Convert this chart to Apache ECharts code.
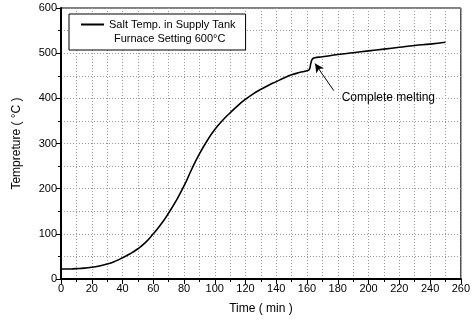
<!DOCTYPE html>
<html><head><meta charset="utf-8">
<script src="https://cdn.jsdelivr.net/npm/echarts@6/dist/echarts.min.js"></script>
<style>html,body{margin:0;padding:0;background:#fff}#c{width:473px;height:322px}</style>
</head><body><div id="c"></div>
<script>
const timeMin = [0,5,10,15,20,25,30,35,40,45,50,55,60,65,70,75,80,85,90,95,100,105,110,115,120,125,130,135,140,145,150,155,160,161.5,162.5,163.5,165,170,180,190,200,210,220,230,240,250];
const saltTemp = [22,22,23,24,26,29,33,39,47,56,67,81,100,121,146,174,206,243,277,306,331,351,368,384,398,410,420,429,437,445,452,457,461,464,478,487,490,492,497,501,505,509,513,517,520,524];
const seriesName = 'Salt Temp. in Supply Tank';
const legendLine2 = 'Furnace Setting 600°C';
const annotText = 'Complete melting';
const arrowTip = [165.2, 477];
const arrowTail = [177.4, 417];
const annotPos = [182.5, 402];
const xTitle = 'Time ( min )';
const yTitle = 'Tempreture ( °C )';

const font = 'Liberation Sans, Arial, sans-serif';
const chart = echarts.init(document.getElementById('c'), null, {renderer:'canvas'});
chart.setOption({
  animation:false,
  textStyle:{fontFamily:font},
  grid:{left:61,right:8,top:8,bottom:43,show:true,borderColor:'#000',borderWidth:1,backgroundColor:'transparent'},
  legend:{
    data:[seriesName], left:69, top:14, orient:'vertical',
    itemWidth:23, itemHeight:2, itemGap:0,
    padding:[5,10,20,12],
    borderColor:'#000', borderWidth:1, backgroundColor:'#fff',
    textStyle:{fontFamily:font,fontSize:11,color:'#000'},
    icon:'rect'
  },
  graphic:[{type:'text',left:114,top:33,z:100,style:{text:legendLine2,font:'11px '+font,fill:'#000'}}],
  xAxis:{
    type:'value', min:0, max:260, interval:20,
    name:xTitle, nameLocation:'middle', nameGap:24,
    nameTextStyle:{fontSize:12,color:'#000',fontFamily:font},
    axisLine:{show:true,onZero:false,lineStyle:{color:'#000',width:2}},
    axisTick:{show:true,inside:false,length:5,lineStyle:{color:'#000',width:1}},
    minorTick:{show:true,splitNumber:2,length:3,lineStyle:{color:'#000'}},
    axisLabel:{fontSize:11,color:'#000',fontFamily:font,margin:4},
    splitLine:{show:true,lineStyle:{color:'#999',type:[1,2],width:1}},
    minorSplitLine:{show:true,lineStyle:{color:'#999',type:[1,2],width:1}}
  },
  yAxis:{
    type:'value', min:0, max:600, interval:100,
    name:yTitle, nameLocation:'middle', nameGap:38,
    nameTextStyle:{fontSize:12,color:'#000',fontFamily:font},
    axisLine:{show:true,onZero:false,lineStyle:{color:'#000',width:2}},
    axisTick:{show:true,inside:false,length:5,lineStyle:{color:'#000',width:1}},
    minorTick:{show:true,splitNumber:2,length:3,lineStyle:{color:'#000'}},
    axisLabel:{fontSize:11,color:'#000',fontFamily:font,margin:4},
    splitLine:{show:true,lineStyle:{color:'#999',type:[1,2],width:1}},
    minorSplitLine:{show:true,lineStyle:{color:'#999',type:[1,2],width:1}}
  },
  series:[{
    name:seriesName, type:'line', smooth:0.5, showSymbol:false, symbol:'none',
    data: timeMin.map((t,i)=>[t,saltTemp[i]]),
    lineStyle:{color:'#000',width:1.6}, itemStyle:{color:'#000'},
    markLine:{
      silent:true, symbol:['none','arrow'], symbolSize:[7,9],
      lineStyle:{color:'#000',width:1,type:'solid'}, label:{show:false},
      data:[[{coord:arrowTail},{coord:arrowTip}]]
    },
    markPoint:{
      silent:true, symbol:'circle', symbolSize:0,
      data:[{coord:annotPos, label:{show:true,position:'right',distance:0,formatter:annotText,fontSize:12,color:'#000',fontFamily:font}}]
    }
  }]
});
</script></body></html>
